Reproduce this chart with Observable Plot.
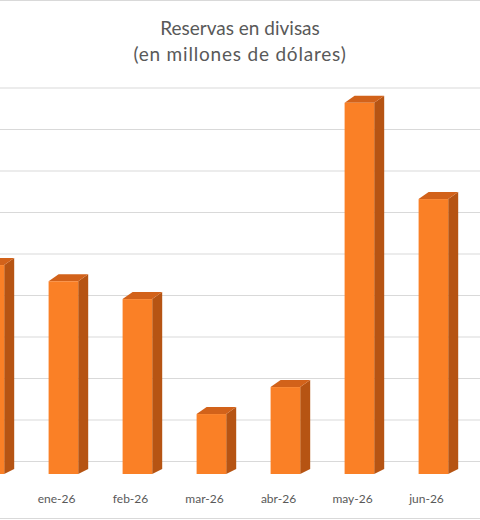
<!DOCTYPE html>
<html>
<head>
<meta charset="utf-8">
<script src="https://cdn.jsdelivr.net/npm/d3@7"></script>
<script src="https://cdn.jsdelivr.net/npm/@observablehq/plot@0.6"></script>
<style>
  html, body { margin: 0; padding: 0; background: #fff; }
  #wrap { position: relative; width: 480px; height: 520px; overflow: hidden; }
  #title { position: absolute; left: 0; top: 15px; width: 480px; text-align: center;
           font-family: Lato, "Open Sans", sans-serif; font-size: 19px; line-height: 26px; color: #595959; }
  #title .l2 { letter-spacing: 0.8px; }
  #chart { position: absolute; left: 0; top: 0; }
</style>
</head>
<body>
<div id="wrap">
  <div id="chart"></div>
  <div id="title"><span>Reservas en divisas</span><br><span class="l2">(en millones de dólares)</span></div>
</div>
<script>
const months = ["dic-25", "ene-26", "feb-26", "mar-26", "abr-26", "may-26", "jun-26", "jul-26"];
const barMonths = ["dic-25", "ene-26", "feb-26", "mar-26", "abr-26", "may-26", "jun-26"];
const values = [2445, 2250, 2035, 650, 975, 4400, 3240];
const tickLabels = ["ene-26", "feb-26", "mar-26", "abr-26", "may-26", "jun-26"];
const yTicks = [0, 500, 1000, 1500, 2000, 2500, 3000, 3500, 4000, 4500];

const data = barMonths.map((m, i) => ({month: m, value: values[i]}));

const frontColor = "#FA8026";
const sideColor = "#B65413";
const topColor = "#D2621A";

function bars3d(index, scales, vals, dims, context) {
  const g = d3.create("svg:g");
  const bw = scales.x.bandwidth();
  const faceW = bw * 0.4;
  const depthX = 10;
  for (const i of index) {
    const left = vals.x[i] + bw * 0.5 - faceW * 0.25;
    const right = left + faceW;
    const top = vals.y2[i] + 7;
    const bottom = vals.y1[i] + 13;
    g.append("polygon")
      .attr("points", [[right, top], [right + depthX, top - 7], [right + depthX, bottom - 5], [right, bottom]].join(" "))
      .attr("fill", sideColor);
    g.append("polygon")
      .attr("points", [[left, top], [left + depthX, top - 7], [right + depthX, top - 7], [right, top]].join(" "))
      .attr("fill", topColor);
    g.append("rect")
      .attr("x", left).attr("y", top)
      .attr("width", faceW).attr("height", bottom - top)
      .attr("fill", frontColor);
  }
  return g.node();
}

const plot = Plot.plot({
  width: 480,
  height: 520,
  marginTop: 87.5,
  marginBottom: 59,
  marginLeft: 0,
  marginRight: 0,
  style: {background: "transparent", fontFamily: "Lato, 'Open Sans', sans-serif", overflow: "hidden"},
  x: {domain: months, range: [-58, 539], padding: 0, label: null},
  y: {domain: [0, 4500], label: null},
  marks: [
    Plot.ruleY(yTicks, {stroke: "#d9d9d9", strokeWidth: 1}),
    Plot.barY(data, {x: "month", y: "value", render: bars3d}),
    Plot.axisX(tickLabels, {tickSize: 0, tickPadding: 33, fontSize: 12, color: "#595959", label: null}),
    Plot.axisY({ticks: [], label: null, tickSize: 0})
  ]
});
document.getElementById("chart").appendChild(plot);

const svg = d3.select(plot);
svg.append("line").attr("x1", 0).attr("x2", 480).attr("y1", 0.5).attr("y2", 0.5).attr("stroke", "#d9d9d9");
svg.append("line").attr("x1", 0).attr("x2", 480).attr("y1", 518.5).attr("y2", 518.5).attr("stroke", "#d9d9d9");
</script>
</body>
</html>
